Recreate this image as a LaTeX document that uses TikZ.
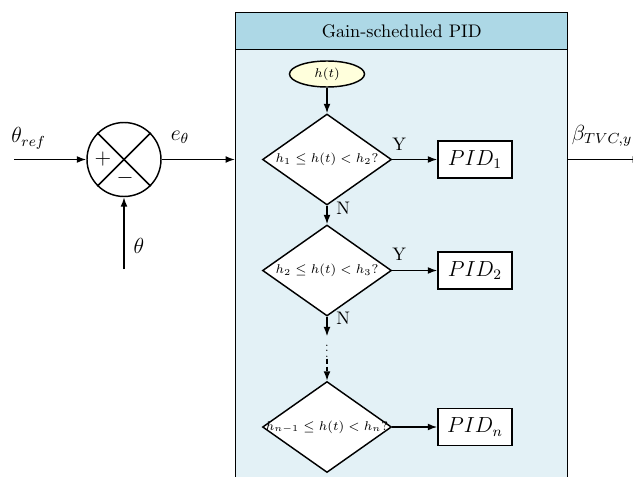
\documentclass[tikz,border=0pt]{standalone}
\usepackage{amsmath,amssymb}
\usetikzlibrary{arrows.meta,shapes.geometric,calc}
\definecolor{hdrblue}{RGB}{173,216,230}
\definecolor{bodyblue}{RGB}{227,241,246}
\definecolor{elly}{RGB}{255,255,220}
\begin{document}
\begin{tikzpicture}[x=0.55pt,y=-0.55pt,
  >={Latex[length=5.2pt,width=3.8pt]}, line width=0.8pt,
  decision/.style={diamond, draw, fill=white, minimum width=70.95pt, minimum height=50.05pt, inner sep=0pt, font=\fontsize{7.3}{9}\selectfont},
  pidbox/.style={rectangle, draw, fill=white, minimum width=40.7pt, minimum height=20.35pt, inner sep=0pt, font=\large},
  lbl/.style={font=\large, inner sep=0pt},
  yn/.style={inner sep=0pt}]
\useasboundingbox (0,0) rectangle (633,477);
% main box
\node[draw, fill=bodyblue, anchor=north west, minimum width=182.6pt, minimum height=263pt, inner sep=0pt] (box) at (235,12) {};
\node[draw, fill=hdrblue, anchor=north west, minimum width=182.6pt, minimum height=20.35pt, inner sep=0pt] (hdr) at (box.north west) {Gain-scheduled PID};
% flowchart
\node[ellipse, draw, fill=elly, minimum width=41.25pt, minimum height=14.3pt, inner sep=0pt, font=\scriptsize] (ht) at (327,74) {$h(t)$};
\node[decision] (d1) at (327,159.5) {\makebox[0pt]{$h_1\le h(t)<h_2?$}};
\node[decision] (d2) at (327,270.5) {\makebox[0pt]{$h_2\le h(t)<h_3?$}};
\node[inner sep=0pt, minimum height=11.5pt, minimum width=4pt] (dots) at (327,347.5) {\scalebox{0.7}{$\vdots$}};
\node[decision] (d3) at (327,427) {\makebox[0pt]{$h_{n-1}\le h(t)<h_n?$}};
\node[pidbox] (p1) at (475,159.5) {$PID_1$};
\node[pidbox] (p2) at (475,270.5) {$PID_2$};
\node[pidbox] (pn) at (475,427) {$PID_n$};
% summing junction
\node[circle, draw, minimum size=40.7pt, inner sep=0pt] (sum) at (124,159.5) {};
\draw (sum.north west) -- (sum.south east);
\draw (sum.north east) -- (sum.south west);
\node[font=\large, inner sep=0pt] (plus) at (103,159.5) {$+$};
\node[font=\large, inner sep=0pt] (minus) at (125,178) {$-$};
% coordinates
\coordinate (in) at (14,159.5);
\coordinate (fb) at (124,269);
\coordinate (out) at (642,159.5);
% connectors
\draw[->] (in) -- (sum.west);
\draw[->] (fb) -- (sum.south);
\draw[->] (sum.east) -- (sum.east -| box.west);
\draw[->] (box.east |- d1.east) -- (out);
\draw[->] (ht) -- (d1);
\draw[->] (d1) -- (p1);
\draw[->] (d1) -- (d2);
\draw[->] (d2) -- (p2);
\draw[->] (d2) -- (dots);
\draw[->, dash pattern=on 2.7pt off 1.6pt] (dots) -- (d3);
\draw[->] (d3) -- (pn);
% labels
\node[lbl] (lref) at (28.7,138.3) {$\theta_{ref}$};
\node[lbl] (le) at (180,137.5) {$e_\theta$};
\node[lbl] (lth) at (139,246) {$\theta$};
\node[lbl] (lb) at (602,136) {$\beta_{TVC,y}$};
\node[yn] (y1) at (399.3,144) {Y};
\node[yn] (n1) at (343.3,208.3) {N};
\node[yn] (y2) at (399.3,254.5) {Y};
\node[yn] (n2) at (343.3,318.3) {N};
\end{tikzpicture}
\end{document}
